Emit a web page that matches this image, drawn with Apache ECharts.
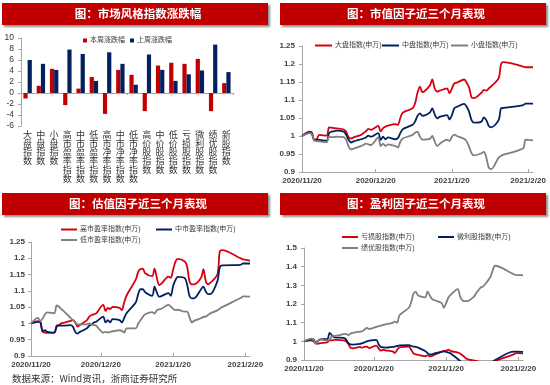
<!DOCTYPE html>
<html><head><meta charset="utf-8">
<script src="https://cdn.jsdelivr.net/npm/echarts@6/dist/echarts.min.js"></script>
<style>html,body{margin:0;padding:0;background:#fff}#c{width:550px;height:385px}</style>
</head><body><div id="c"></div>
<script>
// ---------- Panel 1: weekly change of style indices ----------
const barCategories = ['大盘指数','中盘指数','小盘指数','高市盈率指数','中市盈率指数','低市盈率指数','高市净率指数','中市净率指数','低市净率指数','高价股指数','中价股指数','低价股指数','亏损股指数','微利股指数','绩优股指数','新股指数'];
const thisWeek = [-1.0, 1.3, 4.4, -2.2, 0.8, 2.9, -3.8, 4.2, 3.3, -3.3, 5.0, 5.5, 5.3, 6.2, -3.3, 1.8];
const lastWeek = [6.0, 5.3, 4.2, 7.9, 7.1, 2.2, 7.4, 5.3, 1.5, 7.0, 4.2, 2.2, 3.4, 4.1, 8.8, 3.8];

// ---------- Line panels: trading dates ----------
const dates = ['2020-11-20','2020-11-23','2020-11-24','2020-11-25','2020-11-26','2020-11-27','2020-11-30',
'2020-12-01','2020-12-02','2020-12-03','2020-12-04','2020-12-07','2020-12-08','2020-12-09','2020-12-10','2020-12-11','2020-12-14','2020-12-15','2020-12-16','2020-12-17','2020-12-18','2020-12-21','2020-12-22','2020-12-23','2020-12-24','2020-12-25','2020-12-28','2020-12-29','2020-12-30','2020-12-31',
'2021-01-04','2021-01-05','2021-01-06','2021-01-07','2021-01-08','2021-01-11','2021-01-12','2021-01-13','2021-01-14','2021-01-15','2021-01-18','2021-01-19','2021-01-20','2021-01-21','2021-01-22','2021-01-25','2021-01-26','2021-01-27','2021-01-28','2021-01-29',
'2021-02-01','2021-02-02','2021-02-03','2021-02-04','2021-02-05','2021-02-08','2021-02-09','2021-02-10','2021-02-18','2021-02-19','2021-02-22'];
const xTickLabels = ['2020/11/20','2020/12/20','2021/1/20','2021/2/20'];

// Panel 2: size factor
const largeCap = [1.000,1.012,1.010,0.989,0.991,1.003,1.001,
1.024,1.023,1.022,1.021,1.018,1.012,0.996,0.993,0.996,1.003,1.008,1.013,1.020,1.017,1.028,1.013,1.022,1.026,1.029,1.033,1.031,1.050,1.065,
1.077,1.090,1.120,1.137,1.122,1.140,1.157,1.132,1.123,1.126,1.132,1.119,1.132,1.146,1.148,1.157,1.148,1.135,1.107,1.105,
1.120,1.128,1.126,1.132,1.138,1.160,1.200,1.205,1.193,1.191,1.191];
const midCap = [1.000,1.009,1.007,0.989,0.990,0.989,0.987,
1.008,1.012,1.013,1.015,1.012,1.003,0.989,0.982,0.985,0.991,0.993,0.996,1.001,0.998,1.008,0.989,0.998,0.991,0.996,0.991,0.994,1.008,1.019,
1.031,1.040,1.056,1.063,1.056,1.065,1.077,1.060,1.049,1.053,1.058,1.046,1.058,1.077,1.081,1.089,1.081,1.067,1.044,1.037,
1.040,1.052,1.044,1.028,1.024,1.044,1.077,1.078,1.086,1.090,1.090];
const smallCap = [1.000,1.008,1.005,0.987,0.986,0.985,0.983,
0.998,0.997,0.997,0.998,0.997,0.989,0.970,0.963,0.965,0.972,0.975,0.979,0.977,0.975,0.996,0.972,0.979,0.972,0.977,0.972,0.968,0.984,0.993,
1.003,1.009,1.012,0.998,0.990,0.992,1.000,0.985,0.972,0.978,0.990,0.986,0.998,1.004,1.000,0.992,0.985,0.970,0.952,0.946,
0.952,0.956,0.940,0.912,0.908,0.940,0.945,0.948,0.966,0.990,0.988];

// Panel 3: valuation factor
const highPE = [1.000,1.007,1.005,0.974,0.972,0.971,0.972,
0.993,0.995,1.000,1.002,1.008,1.010,1.003,0.990,0.995,1.010,1.021,1.026,1.028,1.031,1.057,1.038,1.048,1.044,1.051,1.048,1.041,1.065,1.085,
1.135,1.158,1.167,1.168,1.154,1.145,1.168,1.140,1.118,1.122,1.144,1.140,1.165,1.190,1.198,1.190,1.175,1.130,1.120,1.120,
1.140,1.167,1.130,1.120,1.125,1.150,1.220,1.225,1.200,1.197,1.193];
const midPE = [1.000,1.005,1.003,0.976,0.979,0.974,0.972,
0.990,0.993,0.993,0.993,0.995,0.990,0.974,0.969,0.974,0.985,0.993,0.997,1.003,1.005,1.021,1.003,1.010,1.003,1.013,1.010,1.003,1.017,1.031,
1.065,1.090,1.105,1.105,1.096,1.085,1.113,1.095,1.082,1.084,1.093,1.085,1.115,1.133,1.143,1.139,1.120,1.085,1.077,1.077,
1.105,1.113,1.098,1.090,1.090,1.130,1.172,1.178,1.180,1.184,1.184];
const lowPE = [1.000,1.017,1.007,1.015,1.028,1.034,1.031,
1.055,1.051,1.044,1.038,1.017,1.010,1.003,0.997,0.997,0.997,1.000,0.997,0.995,0.993,0.972,0.974,0.972,0.974,0.976,0.979,0.977,0.972,0.985,
0.985,1.000,1.010,1.020,1.028,1.035,1.030,1.041,1.043,1.045,1.057,1.052,1.045,1.041,1.042,1.036,1.036,1.020,1.003,1.008,
1.016,1.020,1.021,1.026,1.031,1.040,1.045,1.050,1.078,1.083,1.082];

// Panel 4: profitability factor
const lossStocks = [1.000,1.005,1.000,0.990,0.987,0.990,0.995,
1.005,1.005,1.008,1.008,1.005,1.000,0.987,0.965,0.963,0.970,0.966,0.970,0.972,0.964,0.977,0.962,0.950,0.955,0.952,0.946,0.938,0.955,0.968,
0.972,0.955,0.935,0.930,0.928,0.920,0.925,0.920,0.922,0.928,0.945,0.948,0.950,0.955,0.948,0.940,0.935,0.925,0.915,0.905,
0.897,0.895,0.890,0.885,0.880,0.880,0.890,0.895,0.930,0.937,0.936];
const lowProfit = [1.000,1.009,1.012,0.993,1.002,1.011,1.012,
1.045,1.032,1.022,1.020,1.018,1.010,0.990,0.984,0.982,0.986,0.990,0.995,1.000,1.004,1.008,0.985,0.970,0.968,0.966,0.970,0.972,0.975,0.978,
0.980,0.975,0.972,0.970,0.966,0.948,0.937,0.930,0.930,0.935,0.943,0.946,0.943,0.940,0.935,0.905,0.895,0.885,0.880,0.875,
0.870,0.870,0.870,0.870,0.872,0.880,0.890,0.900,0.945,0.945,0.943];
const bluechip = [1.000,1.014,1.009,0.987,1.005,1.009,1.004,
1.009,1.027,1.029,1.030,1.038,1.040,1.034,1.041,1.045,1.052,1.054,1.063,1.072,1.066,1.077,1.081,1.084,1.088,1.091,1.099,1.106,1.100,1.140,
1.180,1.210,1.255,1.265,1.245,1.235,1.268,1.245,1.226,1.220,1.206,1.180,1.205,1.235,1.250,1.280,1.240,1.220,1.215,1.215,
1.240,1.260,1.275,1.290,1.295,1.345,1.380,1.405,1.360,1.355,1.355];

const panelTitles = ['图：市场风格指数涨跌幅','图：市值因子近三个月表现','图：估值因子近三个月表现','图：盈利因子近三个月表现'];
const sourceText = '数据来源：Wind资讯，浙商证券研究所';

// ---------- helpers ----------
const RED = '#D7000F', BLUE = '#002060', GREY = '#7F7F7F';
const FONT = "'Liberation Sans','Noto Sans CJK SC',sans-serif";
const ts = s => { const p = s.split(/[-\/]/).map(Number); return Date.UTC(p[0], p[1]-1, p[2]); };
const tickTs = xTickLabels.map(ts);
const pair = arr => dates.map((s, i) => [ts(s), arr[i]]);

function dateAxis(gi) {
  return {
    type: 'value', gridIndex: gi, min: ts(dates[0]), max: ts(dates[dates.length - 1]),
    splitLine: {show: false},
    axisLine: {show: true, lineStyle: {color: '#A6A6A6', width: 1}},
    axisTick: {show: true, inside: true, length: 3, customValues: tickTs, lineStyle: {color: '#A6A6A6'}},
    axisLabel: {customValues: tickTs, formatter: v => { const i = tickTs.indexOf(v); return i >= 0 ? xTickLabels[i] : ''; },
      fontSize: 8, fontWeight: 'bold', color: '#404040', margin: 5, hideOverlap: false, fontFamily: FONT}
  };
}
function valAxis(gi, min, max, interval, margin) {
  return {
    type: 'value', gridIndex: gi, min, max, interval,
    splitLine: {show: false},
    axisLine: {show: true, lineStyle: {color: '#A6A6A6', width: 1}},
    axisTick: {show: true, length: 3, lineStyle: {color: '#A6A6A6'}},
    axisLabel: {fontSize: 8, fontWeight: 'bold', color: '#404040', margin, fontFamily: FONT,
      formatter: v => String(+v.toFixed(2))}
  };
}
function lineSeries(name, arr, color, gi) {
  return {type: 'line', name, xAxisIndex: gi, yAxisIndex: gi, data: pair(arr), symbol: 'none',
    smooth: 0.3, lineStyle: {width: 1.8, color}, itemStyle: {color}, clip: true};
}
function legendItem(name, left, top, w, h) {
  return {data: [name], left, top, icon: 'rect', itemWidth: w || 16, itemHeight: h || 2, padding: 0, itemGap: 0,
    textStyle: {fontSize: 7, color: '#404040', fontFamily: FONT, padding: [0, 0, 0, -2]}};
}
function titleBar(x, y, w, h, text) {
  return [
    {type: 'rect', left: x, top: y, shape: {width: w, height: h},
      style: {fill: '#C00000', shadowBlur: 2, shadowOffsetX: 2, shadowOffsetY: 2, shadowColor: 'rgba(0,0,0,0.45)'}},
    {type: 'text', x: x + w / 2 + 3, y: y + h / 2, style: {text, fill: '#fff', font: "bold 11.5px 'Noto Sans CJK SC'", textAlign: 'center', textVerticalAlign: 'middle'}}
  ];
}

const option = {
  animation: false,
  textStyle: {fontFamily: FONT},
  grid: [
    {left: 21, top: 38, width: 212, height: 88},
    {left: 302, top: 46, width: 231, height: 126},
    {left: 31, top: 242, width: 219, height: 114},
    {left: 304, top: 248, width: 219, height: 112}
  ],
  xAxis: [
    {type: 'category', gridIndex: 0, data: barCategories,
      axisLine: {onZero: true, lineStyle: {color: '#A6A6A6'}},
      axisTick: {show: true, length: 2, lineStyle: {color: '#A6A6A6'}}, axisLabel: {show: false}},
    dateAxis(1), dateAxis(2), dateAxis(3),
    {type: 'category', gridIndex: 0, data: barCategories, position: 'bottom',
      axisLine: {show: false, onZero: false}, axisTick: {show: false},
      axisLabel: {interval: 0, margin: 4, fontSize: 9, lineHeight: 8.8, color: '#333', fontFamily: "'Noto Sans CJK SC'",
        formatter: v => v.split('').join('\n')}}
  ],
  yAxis: [
    Object.assign(valAxis(0, -6, 10, 2, 7), {axisLabel: {fontSize: 8.5, color: '#333', margin: 7, fontFamily: FONT}}),
    valAxis(1, 0.9, 1.25, 0.05, 7),
    valAxis(2, 0.9, 1.25, 0.05, 6),
    valAxis(3, 0.9, 1.5, 0.1, 7)
  ],
  legend: [
    legendItem('本周涨跌幅', 83, 37, 4, 4),
    legendItem('上周涨跌幅', 130, 37, 4, 4),
    legendItem('大盘指数(申万)', 315, 42, 17),
    legendItem('中盘指数(申万)', 382, 42, 17),
    legendItem('小盘指数(申万)', 451, 42, 17),
    legendItem('高市盈率指数(申万)', 61, 226),
    legendItem('中市盈率指数(申万)', 156, 226),
    legendItem('低市盈率指数(申万)', 61, 236.5),
    legendItem('亏损股指数(申万)', 342, 233.5),
    legendItem('微利股指数(申万)', 438, 233.5),
    legendItem('绩优股指数(申万)', 342, 244.5)
  ],
  series: [
    {type: 'bar', name: '本周涨跌幅', xAxisIndex: 0, yAxisIndex: 0, data: thisWeek, barWidth: 4.2, barGap: '0%', itemStyle: {color: '#C00000'}},
    {type: 'bar', name: '上周涨跌幅', xAxisIndex: 0, yAxisIndex: 0, data: lastWeek, barWidth: 4.2, barGap: '0%', itemStyle: {color: BLUE}},
    lineSeries('大盘指数(申万)', largeCap, RED, 1),
    lineSeries('中盘指数(申万)', midCap, BLUE, 1),
    lineSeries('小盘指数(申万)', smallCap, GREY, 1),
    lineSeries('高市盈率指数(申万)', highPE, RED, 2),
    lineSeries('中市盈率指数(申万)', midPE, BLUE, 2),
    lineSeries('低市盈率指数(申万)', lowPE, GREY, 2),
    lineSeries('亏损股指数(申万)', lossStocks, RED, 3),
    lineSeries('微利股指数(申万)', lowProfit, BLUE, 3),
    lineSeries('绩优股指数(申万)', bluechip, GREY, 3)
  ],
  graphic: [
    ...titleBar(2, 3, 266, 22, panelTitles[0]),
    ...titleBar(280, 3, 266, 22, panelTitles[1]),
    ...titleBar(2, 193, 266, 22, panelTitles[2]),
    ...titleBar(280, 193, 266, 22, panelTitles[3]),
    {type: 'text', left: 12, top: 374, style: {text: sourceText, fill: '#333', font: "9.5px 'Noto Sans CJK SC'"}}
  ]
};
const chart = echarts.init(document.getElementById('c'));
chart.setOption(option);
</script></body></html>
